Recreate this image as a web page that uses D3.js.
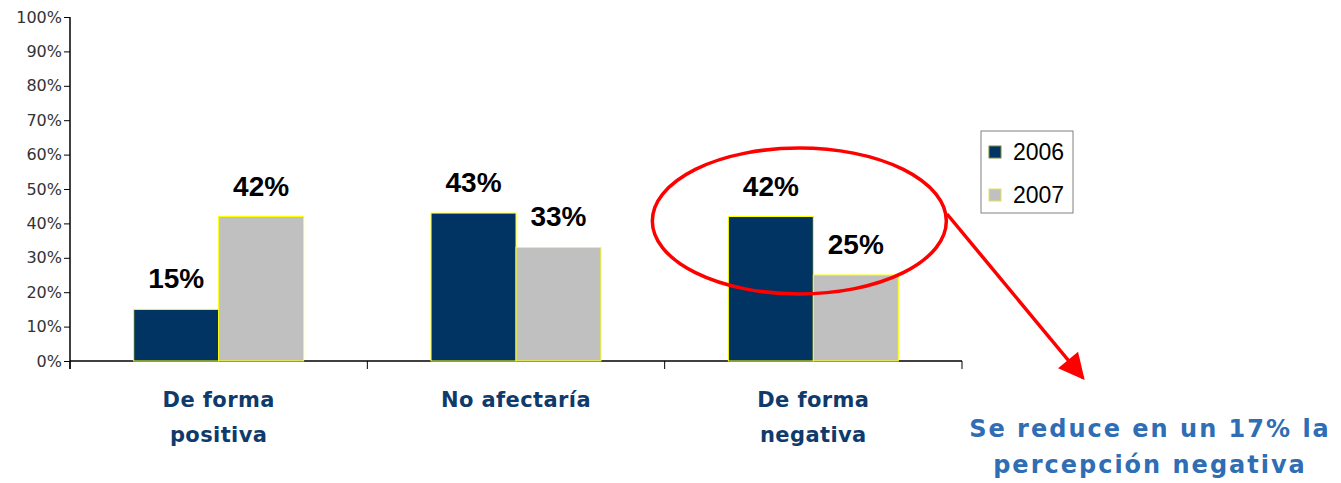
<!DOCTYPE html>
<html>
<head>
<meta charset="utf-8">
<script src="https://cdn.jsdelivr.net/npm/d3@7"></script>
<style>
  body { margin: 0; background: #fff; }
</style>
</head>
<body>
<div id="chart"></div>
<script>
// Data
var categories = [["De forma", "positiva"], ["No afectaría"], ["De forma", "negativa"]];
var series = ["2006", "2007"];
var values2006 = [0.15, 0.43, 0.42];
var values2007 = [0.42, 0.33, 0.25];
var yTicks = [0, 0.1, 0.2, 0.3, 0.4, 0.5, 0.6, 0.7, 0.8, 0.9, 1];
var note = ["Se reduce en un 17% la", "percepción negativa"];

var colors = { "2006": "#023463", "2007": "#c0c0c0" };

var width = 1341, height = 483;
var svg = d3.select("#chart").append("svg")
  .attr("width", width)
  .attr("height", height);

// Scales
var catKeys = categories.map(function(c) { return c.join(" "); });
var x = d3.scaleBand().domain(catKeys).range([70, 962]).padding(0);
var xSub = d3.scaleBand().domain(series).range([0, x.bandwidth()]).paddingInner(0).paddingOuter(0.75);
var y = d3.scaleLinear().domain([0, 1]).range([361, 17]);

// Y axis
var yAxis = svg.append("g")
  .attr("transform", "translate(70,0)")
  .call(d3.axisLeft(y).tickValues(yTicks).tickFormat(d3.format(".0%")).tickSize(6).tickPadding(2));
yAxis.select(".domain").attr("stroke", "#000").attr("stroke-width", 1.5)
  .attr("d", "M0,17V369");
yAxis.selectAll(".tick line").attr("stroke", "#000");
yAxis.selectAll(".tick text")
  .style("font-family", "'DejaVu Sans', Verdana, sans-serif")
  .style("font-size", "16px")
  .attr("fill", "#333");

// X axis
var xAxis = svg.append("g")
  .attr("transform", "translate(0,361)");
xAxis.append("line")
  .attr("x1", 70).attr("x2", 962)
  .attr("stroke", "#000").attr("stroke-width", 1.5);
xAxis.selectAll(".xtick")
  .data(catKeys.map(function(k) { return x(k); }).concat([962]))
  .enter().append("line")
  .attr("x1", function(d) { return d; })
  .attr("x2", function(d) { return d; })
  .attr("y1", 0).attr("y2", 8)
  .attr("stroke", "#000");

// Bars
var rows = [];
catKeys.forEach(function(k, i) {
  rows.push({ cat: k, s: "2006", v: values2006[i] });
  rows.push({ cat: k, s: "2007", v: values2007[i] });
});

svg.append("g").selectAll("rect")
  .data(rows)
  .enter().append("rect")
  .attr("x", function(d) { return x(d.cat) + xSub(d.s); })
  .attr("y", function(d) { return y(d.v); })
  .attr("width", xSub.bandwidth())
  .attr("height", function(d) { return y(0) - y(d.v); })
  .attr("fill", function(d) { return colors[d.s]; })
  .attr("stroke", "#ffff00")
  .attr("stroke-width", 1);

// Value labels
svg.append("g").selectAll("text")
  .data(rows)
  .enter().append("text")
  .attr("x", function(d) { return x(d.cat) + xSub(d.s) + xSub.bandwidth() / 2; })
  .attr("y", function(d) { return y(d.v) - 21; })
  .attr("text-anchor", "middle")
  .style("font-family", "'Liberation Sans', Arial, sans-serif")
  .style("font-weight", "bold")
  .style("font-size", "28px")
  .attr("fill", "#000")
  .text(function(d) { return Math.round(d.v * 100) + "%"; });

// Category labels
var catLabels = svg.append("g").selectAll("text")
  .data(categories)
  .enter().append("text")
  .attr("x", function(d, i) { return x(catKeys[i]) + x.bandwidth() / 2; })
  .attr("y", 407)
  .attr("text-anchor", "middle")
  .style("font-family", "'DejaVu Sans', Tahoma, sans-serif")
  .style("font-weight", "bold")
  .style("font-size", "21px")
  .style("letter-spacing", "0.4px")
  .attr("fill", "#0f3a6c");
catLabels.selectAll("tspan")
  .data(function(d) { return d; })
  .enter().append("tspan")
  .attr("x", function() { return d3.select(this.parentNode).attr("x"); })
  .attr("dy", function(d, i) { return i === 0 ? 0 : 35; })
  .text(function(d) { return d; });

// Legend
var legend = svg.append("g").attr("transform", "translate(981,131)");
legend.append("rect")
  .attr("width", 92).attr("height", 82)
  .attr("fill", "#fff").attr("stroke", "#808080").attr("stroke-width", 1);
series.forEach(function(s, i) {
  var g = legend.append("g").attr("transform", "translate(8," + (15 + i * 43) + ")");
  g.append("rect")
    .attr("width", 12).attr("height", 12)
    .attr("fill", colors[s])
    .attr("stroke", i === 0 ? "#7d8a3c" : "#e6e060")
    .attr("stroke-width", 1);
  g.append("text")
    .attr("x", 24).attr("y", 14)
    .style("font-family", "'Liberation Sans', Arial, sans-serif")
    .style("font-size", "23px")
    .attr("fill", "#000")
    .text(s);
});

// Annotation ellipse and arrow
var catNeg = catKeys[2];
var cx = x(catNeg) + x.bandwidth() / 2 - 14;
svg.append("ellipse")
  .attr("cx", cx).attr("cy", 221)
  .attr("rx", 147).attr("ry", 73)
  .attr("fill", "none")
  .attr("stroke", "#ff0000")
  .attr("stroke-width", 3.5);

svg.append("defs").append("marker")
  .attr("id", "arrow")
  .attr("viewBox", "0 0 10 10")
  .attr("refX", 9).attr("refY", 5)
  .attr("markerWidth", 30).attr("markerHeight", 26)
  .attr("markerUnits", "userSpaceOnUse")
  .attr("orient", "auto")
  .append("path")
  .attr("d", "M0,0L10,5L0,10Z")
  .attr("fill", "#ff0000");

svg.append("line")
  .attr("x1", 947).attr("y1", 214)
  .attr("x2", 1083).attr("y2", 378)
  .attr("stroke", "#ff0000")
  .attr("stroke-width", 3.5)
  .attr("marker-end", "url(#arrow)");

// Note text
svg.append("g").selectAll("text")
  .data(note)
  .enter().append("text")
  .attr("x", 1150)
  .attr("y", function(d, i) { return 437 + i * 36; })
  .attr("text-anchor", "middle")
  .style("font-family", "'DejaVu Sans', Tahoma, sans-serif")
  .style("font-weight", "bold")
  .style("font-size", "24px")
  .style("letter-spacing", "2px")
  .attr("fill", "#2f6db5")
  .text(function(d) { return d; });
</script>
</body>
</html>
